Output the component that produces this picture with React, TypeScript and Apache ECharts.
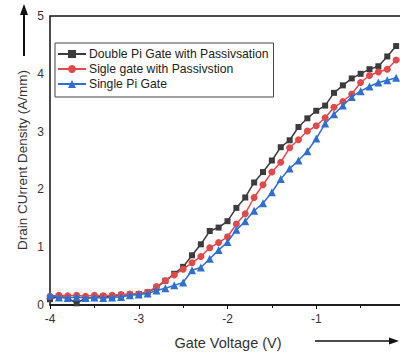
import React, { useEffect, useRef } from "react";
import * as echarts from "echarts";

const voltages = [
  -4.0, -3.9, -3.8, -3.7, -3.6, -3.5, -3.4, -3.3, -3.2, -3.1,
  -3.0, -2.9, -2.8, -2.7, -2.6, -2.5, -2.4, -2.3, -2.2, -2.1,
  -2.0, -1.9, -1.8, -1.7, -1.6, -1.5, -1.4, -1.3, -1.2, -1.1,
  -1.0, -0.9, -0.8, -0.7, -0.6, -0.5, -0.4, -0.3, -0.2, -0.1,
];

const doublePiPassivation = [
  0.10, 0.15, 0.12, 0.03, 0.12, 0.13, 0.15, 0.15, 0.17, 0.18,
  0.19, 0.22, 0.30, 0.42, 0.54, 0.66, 0.86, 1.05, 1.28, 1.34,
  1.45, 1.68, 1.86, 2.12, 2.30, 2.50, 2.73, 2.85, 3.08, 3.23,
  3.36, 3.45, 3.67, 3.80, 3.92, 4.00, 4.08, 4.13, 4.30, 4.48,
];

const singleGatePassivation = [
  0.15, 0.17, 0.16, 0.17, 0.15, 0.17, 0.16, 0.17, 0.18, 0.19,
  0.19, 0.22, 0.32, 0.42, 0.52, 0.62, 0.73, 0.84, 0.99, 1.08,
  1.18, 1.40, 1.58, 1.86, 2.08, 2.30, 2.47, 2.72, 2.86, 3.01,
  3.10, 3.24, 3.42, 3.52, 3.65, 3.85, 3.97, 4.03, 4.08, 4.24,
];

const singlePiGate = [
  0.17, 0.13, 0.12, 0.14, 0.12, 0.13, 0.12, 0.13, 0.14, 0.17,
  0.18, 0.20, 0.25, 0.29, 0.34, 0.39, 0.60, 0.65, 0.80, 0.95,
  1.09, 1.30, 1.45, 1.63, 1.76, 1.95, 2.18, 2.36, 2.50, 2.66,
  2.88, 3.14, 3.30, 3.45, 3.60, 3.70, 3.78, 3.85, 3.89, 3.93,
];

const seriesNames = [
  "Double Pi Gate with Passivsation",
  "Sigle gate with Passivstion",
  "Single Pi Gate",
];

const xTitle = "Gate Voltage (V)";
const yTitle = "Drain CUrrent Density (A/mm)";

const pairs = (ys: number[]) => voltages.map((v, i) => [v, ys[i]]);

export default function App() {
  const ref = useRef<HTMLDivElement>(null);
  useEffect(() => {
    if (!ref.current) return;
    const chart = echarts.init(ref.current, undefined, { renderer: "svg" });
    const font = "Arial, 'Liberation Sans', sans-serif";
    const axisCommon = {
      axisLine: { show: true, lineStyle: { color: "#111", width: 1.5 } },
      axisTick: { show: true, inside: false, length: 4, lineStyle: { color: "#111", width: 1 } },
      minorTick: { show: true, splitNumber: 2, length: 3, lineStyle: { color: "#111", width: 1 } },
      splitLine: { show: false },
      axisLabel: { color: "#333", fontSize: 12, fontFamily: font },
    };
    chart.setOption({
      animation: false,
      backgroundColor: "#fff",
      grid: {
        left: 50,
        top: 16,
        width: 355,
        height: 289,
        show: true,
        borderColor: "#111",
        borderWidth: 1.5,
        outerBoundsMode: "none",
        containLabel: false,
      },
      legend: {
        orient: "vertical",
        left: 55,
        top: 43,
        itemWidth: 28,
        itemHeight: 10,
        itemGap: 3,
        padding: [5, 5, 7, 2],
        borderColor: "#444",
        borderWidth: 1,
        backgroundColor: "#fff",
        textStyle: {
          fontSize: 12.2,
          lineHeight: 10,
          fontFamily: font,
          color: "#222",
          padding: [0, 0, 0, -2],
        },
        data: seriesNames,
      },
      xAxis: {
        type: "value",
        min: -4,
        max: 0,
        interval: 1,
        ...axisCommon,
        axisLabel: { ...axisCommon.axisLabel, margin: 8, showMaxLabel: false },
      },
      yAxis: {
        type: "value",
        min: 0,
        max: 5,
        interval: 1,
        ...axisCommon,
        axisLabel: { ...axisCommon.axisLabel, margin: 6 },
      },
      graphic: [
        {
          type: "text",
          x: 22,
          y: 160,
          rotation: Math.PI / 2,
          style: {
            text: yTitle,
            fill: "#333",
            fontSize: 13.5,
            fontFamily: font,
            textAlign: "center",
            textVerticalAlign: "middle",
          },
        },
        {
          type: "line",
          shape: { x1: 24, y1: 56, x2: 24, y2: 14 },
          style: { stroke: "#111", lineWidth: 2 },
        },
        {
          type: "polygon",
          shape: { points: [[24, 4], [20, 15], [28, 15]] },
          style: { fill: "#111" },
        },
        {
          type: "text",
          x: 228,
          y: 343,
          style: {
            text: xTitle,
            fill: "#333",
            fontSize: 14.5,
            fontFamily: font,
            textAlign: "center",
            textVerticalAlign: "middle",
          },
        },
        {
          type: "line",
          shape: { x1: 315, y1: 341, x2: 390, y2: 341 },
          style: { stroke: "#111", lineWidth: 1.5 },
        },
        {
          type: "polygon",
          shape: { points: [[399, 341], [389, 337.5], [389, 344.5]] },
          style: { fill: "#111" },
        },
      ],
      series: [
        {
          name: seriesNames[0],
          type: "line",
          data: pairs(doublePiPassivation),
          symbol: "rect",
          symbolSize: 6,
          itemStyle: { color: "#3c3c3c" },
          lineStyle: { color: "#3c3c3c", width: 1.5 },
          z: 3,
        },
        {
          name: seriesNames[1],
          type: "line",
          data: pairs(singleGatePassivation),
          symbol: "circle",
          symbolSize: 7,
          itemStyle: { color: "#e24a4a" },
          lineStyle: { color: "#e24a4a", width: 1.5 },
          z: 4,
        },
        {
          name: seriesNames[2],
          type: "line",
          data: pairs(singlePiGate),
          symbol: "triangle",
          symbolSize: 8,
          itemStyle: { color: "#2f6fd1" },
          lineStyle: { color: "#2f6fd1", width: 1.5 },
          z: 5,
        },
      ],
    });
    return () => chart.dispose();
  }, []);
  return (
    <div
      ref={ref}
      style={{ position: "fixed", left: 0, top: 0, width: 400, height: 356 }}
    />
  );
}
